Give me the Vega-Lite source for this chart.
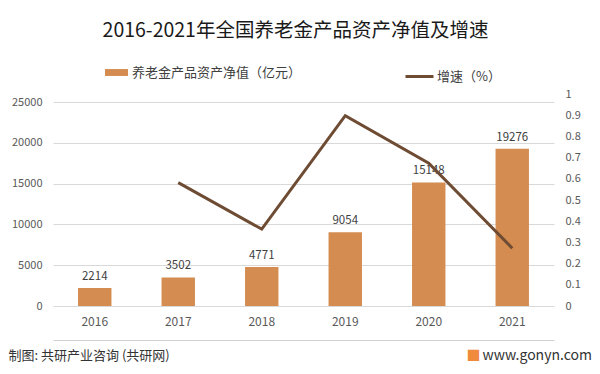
{
  "$schema": "https://vega.github.io/schema/vega-lite/v6.json",
  "autosize": "none",
  "width": 501,
  "height": 212,
  "padding": {"left": 53, "top": 94, "right": 46, "bottom": 68},
  "background": "white",
  "config": {
    "font": "Noto Sans CJK SC",
    "view": {"stroke": null},
    "axis": {"labelColor": "#595959", "ticks": false}
  },
  "title": {
    "text": "2016-2021年全国养老金产品资产净值及增速",
    "fontSize": 19.5,
    "fontWeight": "normal",
    "color": "#1a1a1a",
    "anchor": "middle",
    "dx": -8,
    "offset": 20
  },
  "data": {
    "values": [
      {"year": "2016", "value": 2214, "rate": null},
      {"year": "2017", "value": 3502, "rate": 0.5818},
      {"year": "2018", "value": 4771, "rate": 0.3624},
      {"year": "2019", "value": 9054, "rate": 0.8977},
      {"year": "2020", "value": 15148, "rate": 0.6731},
      {"year": "2021", "value": 19276, "rate": 0.2725}
    ]
  },
  "layer": [
    {
      "encoding": {
        "x": {
          "field": "year",
          "type": "ordinal",
          "scale": {"paddingInner": 0.6, "paddingOuter": 0.3},
          "axis": {
            "domain": false,
            "labelAngle": 0,
            "labelFontSize": 12,
            "labelPadding": 10,
            "grid": false,
            "title": "制图: 共研产业咨询 (共研网)",
            "titleFontSize": 13,
            "titleFontWeight": "normal",
            "titleColor": "#333333",
            "titleX": -45,
            "titleY": 49,
            "titleAlign": "left",
            "titleBaseline": "middle",
            "titleAnchor": null
          }
        }
      },
      "layer": [
        {
          "mark": {"type": "bar"},
          "encoding": {
            "y": {
              "field": "value",
              "type": "quantitative",
              "scale": {"domain": [0, 25000]},
              "axis": {
                "domain": false,
                "values": [0, 5000, 10000, 15000, 20000, 25000],
                "format": "d",
                "labelFontSize": 11,
                "labelPadding": 11,
                "grid": true,
                "gridColor": "#D9D9D9",
                "title": "■",
                "titleColor": "#F08A3C",
                "titleFontSize": 14,
                "titleAngle": 0,
                "titleX": 413,
                "titleY": 261,
                "titleAlign": "left",
                "titleBaseline": "middle"
              }
            },
            "color": {
              "datum": "养老金产品资产净值（亿元）",
              "scale": {"range": ["#D48C50"]},
              "legend": {
                "orient": "none",
                "legendX": 52,
                "legendY": -33,
                "title": null,
                "labelFontSize": 13,
                "labelColor": "#404040",
                "labelLimit": 400,
                "symbolType": "M-1,-0.3H1V0.3H-1Z",
                "symbolSize": 529,
                "symbolStrokeWidth": 0,
                "labelOffset": 4
              }
            }
          }
        },
        {
          "mark": {"type": "text", "baseline": "bottom", "dy": -6, "fontSize": 11.5, "color": "#404040"},
          "encoding": {
            "y": {"field": "value", "type": "quantitative"},
            "text": {"field": "value", "type": "quantitative", "format": "d"}
          }
        }
      ]
    },
    {
      "transform": [{"filter": "datum.rate != null"}],
      "mark": {"type": "line", "strokeWidth": 3},
      "encoding": {
        "x": {
          "field": "year",
          "type": "ordinal",
          "axis": {
            "orient": "bottom",
            "offset": 34,
            "domain": true,
            "domainColor": "#D0D0D0",
            "domainWidth": 1,
            "labels": false,
            "ticks": false,
            "grid": false,
            "title": null
          }
        },
        "y": {
          "field": "rate",
          "type": "quantitative",
          "scale": {"domain": [0, 1]},
          "axis": {
            "domain": false,
            "orient": "right",
            "values": [0, 0.1, 0.2, 0.3, 0.4, 0.5, 0.6, 0.7, 0.8, 0.9, 1],
            "format": "~g",
            "labelFontSize": 11,
            "labelPadding": 11,
            "grid": false,
            "title": "www.gonyn.com",
            "titleColor": "#333333",
            "titleFontSize": 14,
            "titleFontWeight": "normal",
            "titleAngle": 0,
            "titleX": -72,
            "titleY": 261,
            "titleAlign": "left",
            "titleBaseline": "middle"
          }
        },
        "stroke": {
          "datum": "增速（%）",
          "scale": {"range": ["#6E4B33"]},
          "legend": {
            "orient": "none",
            "legendX": 351,
            "legendY": -33,
            "title": null,
            "labelFontSize": 13,
            "labelColor": "#404040",
            "labelLimit": 200,
            "symbolType": "stroke",
            "symbolSize": 784,
            "symbolStrokeWidth": 3,
            "labelOffset": 2
          }
        }
      }
    }
  ],
  "resolve": {"scale": {"y": "independent"}, "axis": {"x": "independent"}}
}
